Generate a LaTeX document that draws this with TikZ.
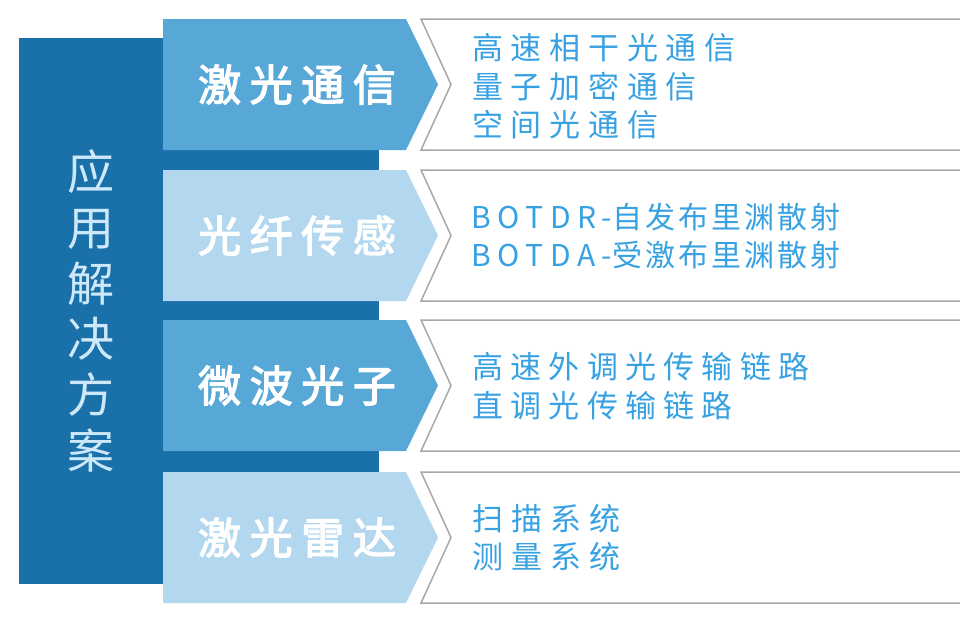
\documentclass[tikz,border=0pt]{standalone}
\usepackage{fontspec}
\newfontfamily\tagfont[LetterSpace=20,FakeBold=3]{Noto Sans CJK SC}
\newfontfamily\itemfont{Noto Sans CJK SC}
\newfontfamily\sidefont{Noto Sans CJK SC}
\newcommand{\track}[1]{\addfontfeature{LetterSpace=#1}}
\definecolor{deepblue}{HTML}{1A70A9}
\definecolor{midblue}{HTML}{57A7D7}
\definecolor{paleblue}{HTML}{B2D7EE}
\definecolor{itemblue}{HTML}{38A1E2}
\definecolor{sidetext}{HTML}{CDE8F8}
\definecolor{rim}{HTML}{A8A8A8}

\begin{document}
\begin{tikzpicture}[x=1pt,y=-1pt,inner sep=0pt,
  tag/.style={font=\tagfont\fontsize{43}{43}\selectfont,text=white},
  item/.style={font=\itemfont\fontsize{31}{38.5}\selectfont,text=itemblue,align=left,anchor=west},
  side/.style={font=\sidefont\fontsize{47}{55.7}\selectfont,text=sidetext,align=center},
  rimline/.style={draw=rim,line width=1.5pt}]
\useasboundingbox (0,0) rectangle (960,621);
% dark column behind the tags
\fill[deepblue] (19,38) rectangle (379,584);
% tags and their item boxes
\foreach \t/\c in {19/midblue,170/paleblue,320/midblue,472/paleblue}{
  \fill[\c] (163,\t) -- (406,\t) -- (438,\t+65.5) -- (406,\t+131) -- (163,\t+131) -- cycle;
  \draw[rimline] (962,\t) -- (421,\t) -- (451,\t+65.5) -- (421,\t+131) -- (962,\t+131);
}
\node[side] (scheme) at (91,311) {应\\用\\解\\决\\方\\案};
\node[tag] (lasercom) at (297,84.5) {激光通信};
\node[tag] (fibersense) at (297,235.5) {光纤传感};
\node[tag] (mwphoton) at (297,385.5) {微波光子};
\node[tag] (lidar) at (297,537.5) {激光雷达};
\node[item] (lasercomitems) at (472,86.5) {\track{25}高速相干光通信\\\track{25}量子加密通信\\\track{25}空间光通信};
\node[item,font=\itemfont\fontsize{30}{38}\selectfont] (fibersenseitems) at (471,236.5)
  {{\track{22}BOTDR-}\track{10}自发布里渊散射\\{\track{22}BOTDA-}\track{10}受激布里渊散射};
\node[item] (mwphotonitems) at (472,386) {\track{23.5}高速外调光传输链路\\\track{23.5}直调光传输链路};
\node[item] (lidaritems) at (472,537.5) {\track{26}扫描系统\\\track{26}测量系统};
\end{tikzpicture}
\end{document}
